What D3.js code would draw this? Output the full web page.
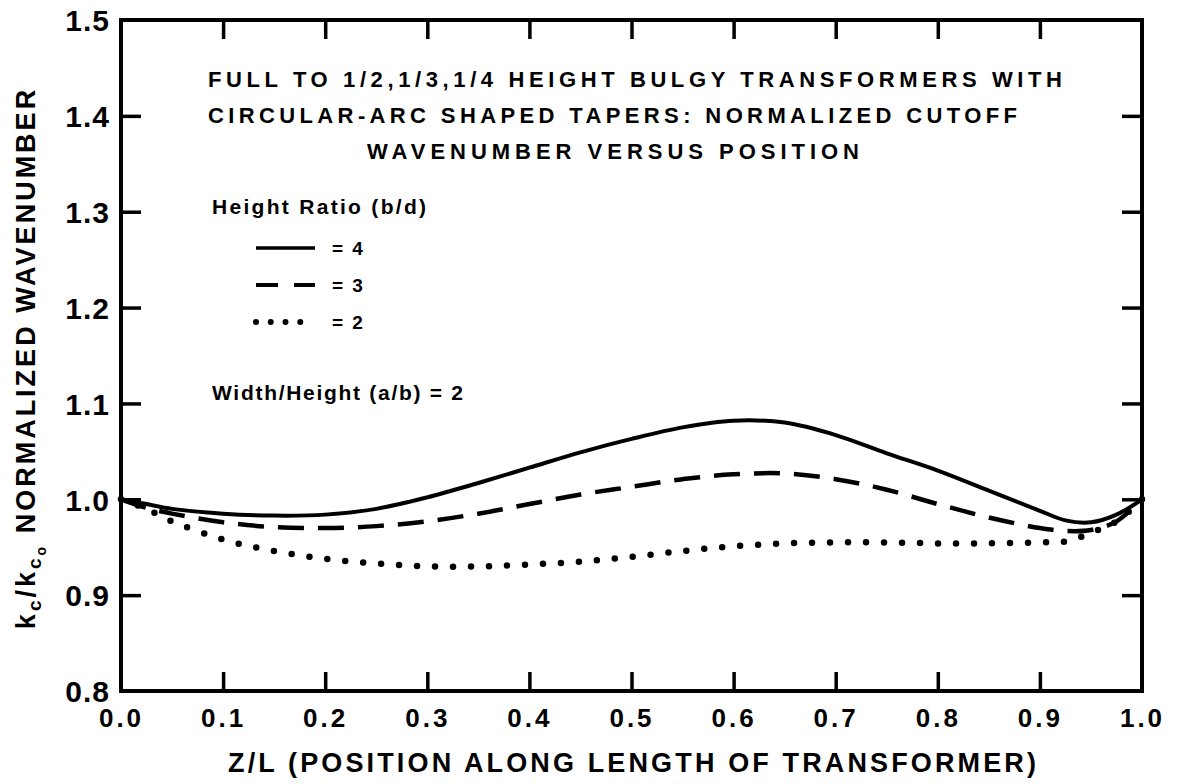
<!DOCTYPE html>
<html>
<head>
<meta charset="utf-8">
<script src="https://cdn.jsdelivr.net/npm/d3@7"></script>
<style>
  body { margin: 0; background: #fff; }
  svg text { font-family: "Liberation Sans", Arial, sans-serif; font-weight: bold; fill: #000; }
</style>
</head>
<body>
<svg id="chart" width="1181" height="784"></svg>
<script>
// Position along the transformer, Z/L
const positions = [0, 0.025, 0.05, 0.10, 0.15, 0.20, 0.25, 0.30, 0.35, 0.40, 0.45, 0.50,
                   0.55, 0.60, 0.65, 0.70, 0.75, 0.80, 0.85, 0.90, 0.925, 0.95, 0.975, 1.0];
// Normalized cutoff wavenumber kc/kc0 for each height ratio b/d
const ratio4 = [1.000, 0.995, 0.990, 0.985, 0.983, 0.984, 0.990, 1.002, 1.017, 1.033, 1.049, 1.063,
                1.075, 1.082, 1.080, 1.067, 1.048, 1.030, 1.009, 0.988, 0.978, 0.976, 0.984, 1.000];
const ratio3 = [1.000, 0.991, 0.985, 0.976, 0.971, 0.970, 0.972, 0.977, 0.985, 0.995, 1.005, 1.013,
                1.021, 1.026, 1.027, 1.021, 1.010, 0.995, 0.981, 0.970, 0.967, 0.968, 0.977, 1.000];
const ratio2 = [1.000, 0.990, 0.977, 0.958, 0.946, 0.938, 0.933, 0.930, 0.930, 0.932, 0.935, 0.940,
                0.946, 0.951, 0.954, 0.955, 0.955, 0.954, 0.954, 0.955, 0.956, 0.965, 0.977, 1.000];

const xTicks = [0, 0.1, 0.2, 0.3, 0.4, 0.5, 0.6, 0.7, 0.8, 0.9, 1.0];
const yTicks = [0.8, 0.9, 1.0, 1.1, 1.2, 1.3, 1.4, 1.5];
const xTickLabels = ["0.0", "0.1", "0.2", "0.3", "0.4", "0.5", "0.6", "0.7", "0.8", "0.9", "1.0"];
const yTickLabels = ["0.8", "0.9", "1.0", "1.1", "1.2", "1.3", "1.4", "1.5"];

const titleLines = [
  "FULL TO 1/2,1/3,1/4 HEIGHT BULGY TRANSFORMERS WITH",
  "CIRCULAR-ARC SHAPED TAPERS: NORMALIZED CUTOFF",
  "WAVENUMBER VERSUS POSITION"
];
const legendTitle = "Height Ratio (b/d)";
const legendLabels = ["= 4", "= 3", "= 2"];
const aspectNote = "Width/Height (a/b) = 2";
const xTitle = "Z/L (POSITION ALONG LENGTH OF TRANSFORMER)";

const svg = d3.select("#chart");
const plot = { left: 121, right: 1142, top: 20, bottom: 691 };

const x = d3.scaleLinear().domain([0, 1]).range([plot.left, plot.right]);
const y = d3.scaleLinear().domain([0.8, 1.5]).range([plot.bottom, plot.top]);

const inner = v => v > 0.0001 && v < 0.9999;
const innerY = v => v > 0.8001 && v < 1.4999;

// Bottom axis: inward ticks, labels below
const gx = svg.append("g").attr("transform", `translate(0,${plot.bottom})`)
  .call(d3.axisBottom(x).tickValues(xTicks).tickSize(-19)
        .tickFormat((d, i) => xTickLabels[i]));
gx.select(".domain").remove();
gx.selectAll(".tick line").attr("stroke", "#000").attr("stroke-width", 3.5)
  .filter(d => !inner(d)).remove();
gx.selectAll(".tick text").attr("y", 36).attr("dy", null)
  .style("font-size", "26px").style("letter-spacing", "3px");

// Top axis: inward ticks only
const gt = svg.append("g").attr("transform", `translate(0,${plot.top})`)
  .call(d3.axisTop(x).tickValues(xTicks.filter(inner)).tickSize(-19).tickFormat(""));
gt.select(".domain").remove();
gt.selectAll(".tick line").attr("stroke", "#000").attr("stroke-width", 3.5);

// Left axis: inward ticks, labels on the left
const gy = svg.append("g").attr("transform", `translate(${plot.left},0)`)
  .call(d3.axisLeft(y).tickValues(yTicks).tickSize(-20)
        .tickFormat((d, i) => yTickLabels[i]));
gy.select(".domain").remove();
gy.selectAll(".tick line").attr("stroke", "#000").attr("stroke-width", 3.5)
  .filter(d => !innerY(d)).remove();
gy.selectAll(".tick text").attr("x", -11).attr("dy", "0.36em")
  .attr("text-anchor", "end").style("font-size", "30px").style("letter-spacing", "1px");

// Right axis: inward ticks only
const gr = svg.append("g").attr("transform", `translate(${plot.right},0)`)
  .call(d3.axisRight(y).tickValues(yTicks.filter(innerY)).tickSize(-20).tickFormat(""));
gr.select(".domain").remove();
gr.selectAll(".tick line").attr("stroke", "#000").attr("stroke-width", 3.5);

// Frame
svg.append("rect")
  .attr("x", plot.left).attr("y", plot.top)
  .attr("width", plot.right - plot.left).attr("height", plot.bottom - plot.top)
  .attr("fill", "none").attr("stroke", "#000").attr("stroke-width", 4);

// Curves
const line = d3.line()
  .x((d, i) => x(positions[i]))
  .y(d => y(d))
  .curve(d3.curveCatmullRom.alpha(0.5));

svg.append("path").datum(ratio4).attr("d", line)
  .attr("fill", "none").attr("stroke", "#000").attr("stroke-width", 4);
svg.append("path").datum(ratio3).attr("d", line)
  .attr("fill", "none").attr("stroke", "#000").attr("stroke-width", 4.5)
  .attr("stroke-dasharray", "26 14");
svg.append("path").datum(ratio2).attr("d", line)
  .attr("fill", "none").attr("stroke", "#000").attr("stroke-width", 6.5)
  .attr("stroke-linecap", "round").attr("stroke-dasharray", "0 18");

// Title block
const titleSpec = [
  { x: 208, y: 87, len: 854 },
  { x: 208, y: 123, len: 809 },
  { x: 367, y: 159, len: 492 }
];
titleLines.forEach((t, i) => {
  svg.append("text")
    .attr("x", titleSpec[i].x).attr("y", titleSpec[i].y)
    .attr("textLength", titleSpec[i].len).attr("lengthAdjust", "spacing")
    .style("font-size", "22px")
    .text(t);
});

// Legend
svg.append("text").attr("x", 212).attr("y", 214)
  .attr("textLength", 214).attr("lengthAdjust", "spacing")
  .style("font-size", "21px").text(legendTitle);

const legendRows = [
  { y: 248, dash: null, width: 3.5, cap: "butt" },
  { y: 285, dash: "22 16", width: 4, cap: "butt" },
  { y: 322, dash: "0 14.75", width: 6, cap: "round" }
];
legendRows.forEach((r, i) => {
  const p = svg.append("line")
    .attr("x1", 256).attr("x2", 315).attr("y1", r.y).attr("y2", r.y)
    .attr("stroke", "#000").attr("stroke-width", r.width).attr("stroke-linecap", r.cap);
  if (r.dash) p.attr("stroke-dasharray", r.dash);
  svg.append("text").attr("x", 332).attr("y", r.y + 7)
    .style("font-size", "19px").style("letter-spacing", "2px")
    .text(legendLabels[i]);
});

svg.append("text").attr("x", 212).attr("y", 400)
  .attr("textLength", 251).attr("lengthAdjust", "spacing")
  .style("font-size", "21px").text(aspectNote);

// Axis titles
svg.append("text").attr("x", 228).attr("y", 772)
  .attr("textLength", 808).attr("lengthAdjust", "spacing")
  .style("font-size", "27px").text(xTitle);

const yt = svg.append("text")
  .attr("transform", "translate(35,358) rotate(-90)")
  .attr("text-anchor", "middle")
  .style("font-size", "27px").style("letter-spacing", "3px");
yt.append("tspan").text("k");
yt.append("tspan").attr("dy", 6).style("font-size", "19px").text("c");
yt.append("tspan").attr("dy", -6).text("/k");
yt.append("tspan").attr("dy", 6).style("font-size", "19px").text("c");
yt.append("tspan").attr("dy", 5).style("font-size", "14px").text("o");
yt.append("tspan").attr("dy", -11).text(" NORMALIZED WAVENUMBER");
</script>
</body>
</html>
